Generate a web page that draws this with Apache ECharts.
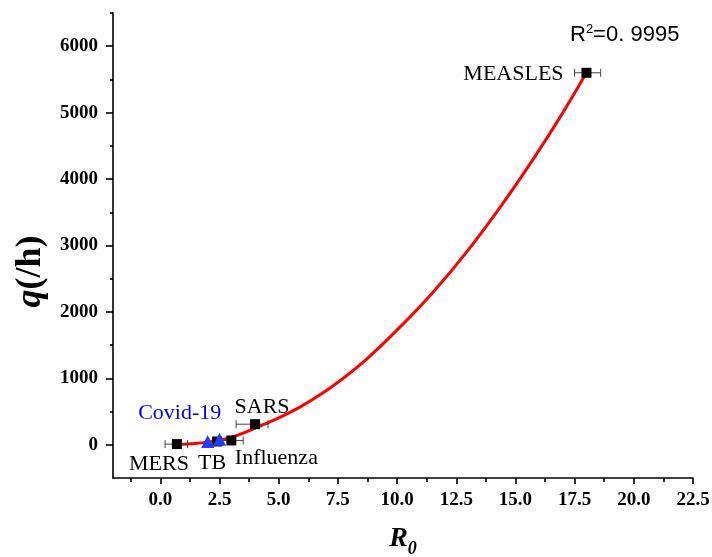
<!DOCTYPE html>
<html>
<head>
<meta charset="utf-8">
<script src="https://cdn.jsdelivr.net/npm/echarts@6/dist/echarts.min.js"></script>
<style>
html,body{margin:0;padding:0;background:#fff;}
#chart{width:712px;height:557px;}
</style>
</head>
<body>
<div id="chart"></div>
<script>
// ---- data ----
const diseaseNames = ['MERS', 'TB', 'Influenza', 'SARS', 'MEASLES'];
const diseaseR0 = [0.7, 2.4, 3.0, 4.0, 18.0];
const diseaseQ = [10, 50, 65, 310, 5600];
const errLow = [0.2, null, 2.55, 3.2, 17.5];
const errHigh = [1.15, null, 3.5, 4.55, 18.6];

const covidR0 = [2.0, 2.5];
const covidQ = [50, 85];
const covidName = 'Covid-19';

const fitR0 = [0.7, 1.5, 2.0, 2.5, 3.0, 3.5, 4.25, 5.0, 5.86, 6.29, 7.27, 8.68, 10.09, 11.5, 12.91, 14.32, 15.73, 16.9, 18.0];
const fitQ = [5, 20, 40, 70, 110, 175, 290, 405, 560, 650, 880, 1280, 1760, 2290, 2890, 3560, 4290, 4940, 5600];

const xMajorTicks = [0, 2.5, 5, 7.5, 10, 12.5, 15, 17.5, 20, 22.5];
const xMinorTicks = [-1.25, 1.25, 3.75, 6.25, 8.75, 11.25, 13.75, 16.25, 18.75, 21.25];
const yMajorTicks = [0, 1000, 2000, 3000, 4000, 5000, 6000];
const yMinorTicks = [500, 1500, 2500, 3500, 4500, 5500, 6500];
const r2Text = '0. 9995';

// ---- label placement (style only) ----
const labelOffsets = {
  'MERS': [-18, 20],
  'TB': [-5, 22],
  'Influenza': [45, 18],
  'SARS': [7, -17],
  'MEASLES': [-73, 1]
};

const serif = 'Liberation Serif, Times New Roman, serif';
const sans = 'Liberation Sans, Arial, sans-serif';
const chart = echarts.init(document.getElementById('chart'), null, {renderer: 'canvas'});

const squareData = diseaseNames.map((n, i) => ({
  name: n,
  value: [diseaseR0[i], diseaseQ[i]],
  label: {show: true, position: 'inside', offset: labelOffsets[n], formatter: n}
}));
const errData = [];
diseaseNames.forEach((n, i) => {
  if (errLow[i] != null) errData.push([errLow[i], errHigh[i], diseaseQ[i]]);
});
const covidData = covidR0.map((x, i) => ({
  value: [x, covidQ[i]],
  label: i === 0 ? {show: true, position: 'inside', offset: [-28, -28], formatter: covidName} : {show: false}
}));
const fitData = fitR0.map((x, i) => [x, fitQ[i]]);

const axisLineStyle = {color: '#000', width: 1.6};

const option = {
  backgroundColor: '#fff',
  animation: false,
  grid: {left: 113, right: 19, top: 13, bottom: 79, containLabel: false, outerBoundsMode: 'none'},
  title: {
    text: '{a|R}{s|2}{a|=' + r2Text + '}',
    left: 565, top: 18,
    textStyle: {
      fontWeight: 'normal',
      rich: {
        a: {fontFamily: sans, fontSize: 22, fontWeight: 'normal', color: '#000'},
        s: {fontFamily: sans, fontSize: 13, fontWeight: 'normal', color: '#000', verticalAlign: 'top', padding: [0, 0, 10, 0]}
      }
    }
  },
  xAxis: [{
    type: 'value', min: -2, max: 22.5,
    position: 'bottom',
    axisLine: {show: true, onZero: false, lineStyle: axisLineStyle},
    axisTick: {show: true, inside: false, length: 6, customValues: xMajorTicks, lineStyle: axisLineStyle},
    axisLabel: {show: true, customValues: xMajorTicks, margin: 13, formatter: v => v.toFixed(1),
      fontFamily: serif, fontWeight: 'bold', fontSize: 19, color: '#000'},
    splitLine: {show: false},
    name: '{i|R}{sub|0}', nameLocation: 'middle', nameGap: 47,
    nameTextStyle: {rich: {
      i: {fontFamily: serif, fontStyle: 'italic', fontWeight: 'bold', fontSize: 28, color: '#000', padding: [0, 0, 5, 0]},
      sub: {fontFamily: serif, fontStyle: 'italic', fontWeight: 'bold', fontSize: 18, color: '#000', verticalAlign: 'bottom'}
    }}
  }, {
    type: 'value', min: -2, max: 22.5,
    position: 'bottom', gridIndex: 0,
    axisLine: {show: false, onZero: false},
    axisTick: {show: true, inside: false, length: 4, customValues: xMinorTicks, lineStyle: axisLineStyle},
    axisLabel: {show: false},
    splitLine: {show: false}
  }],
  yAxis: [{
    type: 'value', min: -500, max: 6500,
    position: 'left',
    axisLine: {show: true, onZero: false, lineStyle: axisLineStyle},
    axisTick: {show: true, inside: false, length: 7, customValues: yMajorTicks, lineStyle: axisLineStyle},
    axisLabel: {show: true, customValues: yMajorTicks, margin: 15, formatter: v => String(v),
      fontFamily: serif, fontWeight: 'bold', fontSize: 19, color: '#000'},
    splitLine: {show: false},
    name: '{i|q}{n|(/h)}', nameLocation: 'middle', nameGap: 58, nameRotate: 90,
    nameTextStyle: {padding: [0, 52, 0, 0], rich: {
      i: {fontFamily: serif, fontStyle: 'italic', fontWeight: 'bold', fontSize: 36, color: '#000'},
      n: {fontFamily: serif, fontWeight: 'bold', fontSize: 36, color: '#000'}
    }}
  }, {
    type: 'value', min: -500, max: 6500,
    position: 'left', gridIndex: 0,
    axisLine: {show: false, onZero: false},
    axisTick: {show: true, inside: false, length: 3, customValues: yMinorTicks, lineStyle: axisLineStyle},
    axisLabel: {show: false},
    splitLine: {show: false}
  }],
  series: [
    {
      type: 'line', name: 'fit', data: fitData, smooth: 0.4, showSymbol: false,
      lineStyle: {color: '#ff0000', width: 3}, z: 2
    },
    {
      type: 'custom', name: 'err', data: errData, z: 3,
      encode: {x: [0, 1], y: 2},
      renderItem: function (params, api) {
        const a = api.coord([api.value(0), api.value(2)]);
        const b = api.coord([api.value(1), api.value(2)]);
        const h = 4;
        const style = {stroke: '#444', lineWidth: 1};
        return {
          type: 'group',
          children: [
            {type: 'line', shape: {x1: a[0], y1: a[1], x2: b[0], y2: b[1]}, style: style},
            {type: 'line', shape: {x1: a[0], y1: a[1] - h, x2: a[0], y2: a[1] + h}, style: style},
            {type: 'line', shape: {x1: b[0], y1: b[1] - h, x2: b[0], y2: b[1] + h}, style: style}
          ]
        };
      }
    },
    {
      type: 'scatter', name: 'diseases', data: squareData, symbol: 'rect', symbolSize: 10, z: 4,
      itemStyle: {color: '#000', opacity: 1},
      label: {fontFamily: serif, fontSize: 22, color: '#000', opacity: 1}
    },
    {
      type: 'scatter', name: 'covid', data: covidData, symbol: 'triangle', symbolSize: 13, z: 5,
      itemStyle: {color: '#1f3cff', opacity: 1},
      label: {fontFamily: serif, fontSize: 22, color: '#0000ff', opacity: 1}
    }
  ]
};
chart.setOption(option);
</script>
</body>
</html>
